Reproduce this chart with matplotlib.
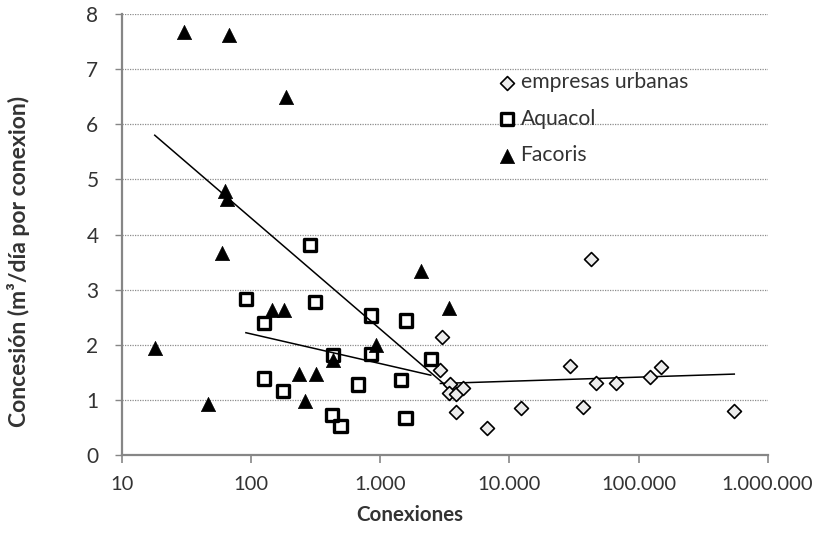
import matplotlib
matplotlib.use("Agg")
import matplotlib.pyplot as plt
from matplotlib.ticker import FuncFormatter, FixedLocator, NullLocator

plt.rcParams['font.family'] = ['Lato', 'DejaVu Sans']

# data
empresas_x = [3020, 2920, 3440, 3400, 3880, 4360, 3830, 6680, 12300, 29500,
              42900, 37000, 46900, 67000, 123000, 149000, 551000]
empresas_y = [2.15, 1.54, 1.29, 1.13, 1.11, 1.21, 0.79, 0.50, 0.85, 1.62,
              3.56, 0.88, 1.30, 1.30, 1.42, 1.60, 0.80]

aquacol_x = [284, 91, 311, 126, 843, 1585, 2460, 430, 843, 126, 177, 673,
             1440, 423, 491, 1570]
aquacol_y = [3.81, 2.83, 2.78, 2.39, 2.53, 2.44, 1.75, 1.81, 1.83, 1.39,
             1.17, 1.28, 1.36, 0.73, 0.53, 0.67]

facoris_x = [30, 67, 185, 63, 64.5, 59, 2050, 3380, 146, 180, 18, 920, 427,
             235, 320, 260, 46]
facoris_y = [7.68, 7.62, 6.50, 4.79, 4.65, 3.66, 3.33, 2.66, 2.63, 2.64,
             1.94, 2.00, 1.72, 1.48, 1.48, 0.99, 0.93]

# trend lines (end points as drawn in the reference)
facoris_trend_x = [17.9, 3380]
facoris_trend_y = [5.80, 1.22]
aquacol_trend_x = [91, 2460]
aquacol_trend_y = [2.22, 1.45]
empresas_trend_x = [2920, 552000]
empresas_trend_y = [1.30, 1.47]

xticks = [10, 100, 1000, 10000, 100000, 1000000]
yticks = [0, 1, 2, 3, 4, 5, 6, 7, 8]

fig = plt.figure(figsize=(8.14, 5.33), dpi=100)
ax = fig.add_axes([0.150, 0.146, 0.793, 0.828])

axis_col = '#868686'
text_col = '#333333'

ax.set_xscale('log')
ax.set_xlim(10, 1000000)
ax.set_ylim(0, 8)

# trend lines
ax.plot(facoris_trend_x, facoris_trend_y, color='black', lw=1.1, zorder=2)
ax.plot(aquacol_trend_x, aquacol_trend_y, color='black', lw=1.1, zorder=2)
ax.plot(empresas_trend_x, empresas_trend_y, color='black', lw=1.1, zorder=2)

ax.scatter(empresas_x, empresas_y, marker='D', s=50, facecolor='#ececec',
           edgecolor='black', linewidth=1.2, zorder=3, label='empresas urbanas')
ax.scatter(aquacol_x, aquacol_y, marker='s', s=78, facecolor='none',
           edgecolor='black', linewidth=2.4, zorder=4, label='Aquacol')
ax.scatter(facoris_x, facoris_y, marker='^', s=105, facecolor='black',
           edgecolor='black', linewidth=0.5, zorder=5, label='Facoris')

ax.yaxis.grid(True, linestyle=(0, (1, 1)), color='#8c8c8c', lw=0.9)
ax.set_axisbelow(True)

ax.xaxis.set_major_locator(FixedLocator(xticks))
ax.xaxis.set_minor_locator(NullLocator())
ax.xaxis.set_major_formatter(FuncFormatter(lambda v, p: '{:,}'.format(int(round(v))).replace(',', '.')))
ax.set_yticks(yticks)

for s in ['top', 'right']:
    ax.spines[s].set_visible(False)
for s in ['left', 'bottom']:
    ax.spines[s].set_color(axis_col)
    ax.spines[s].set_linewidth(1.6)

ax.tick_params(axis='x', which='major', direction='out', length=6, width=1.2,
               color=axis_col, labelsize=14.5, labelcolor=text_col, pad=9)
ax.tick_params(axis='y', which='major', direction='out', length=5, width=1.0,
               color=axis_col, labelsize=15, labelcolor=text_col, pad=12)

ax.set_xlabel('Conexiones', fontsize=14.8, fontweight='bold', color=text_col)
ax.xaxis.set_label_coords(0.446, -0.113)
ax.set_ylabel('Concesión (m³/día por conexion)', fontsize=16.5, fontweight='bold',
              color=text_col)
ax.yaxis.set_label_coords(-0.142, 0.438)

leg = ax.legend(loc='center left', bbox_to_anchor=(0.565, 0.762), frameon=False,
                fontsize=15.2, handletextpad=0.1, labelspacing=0.78,
                handlelength=1.1, borderaxespad=0)
for t in leg.get_texts():
    t.set_color(text_col)

fig.savefig('out.png', dpi=100)
